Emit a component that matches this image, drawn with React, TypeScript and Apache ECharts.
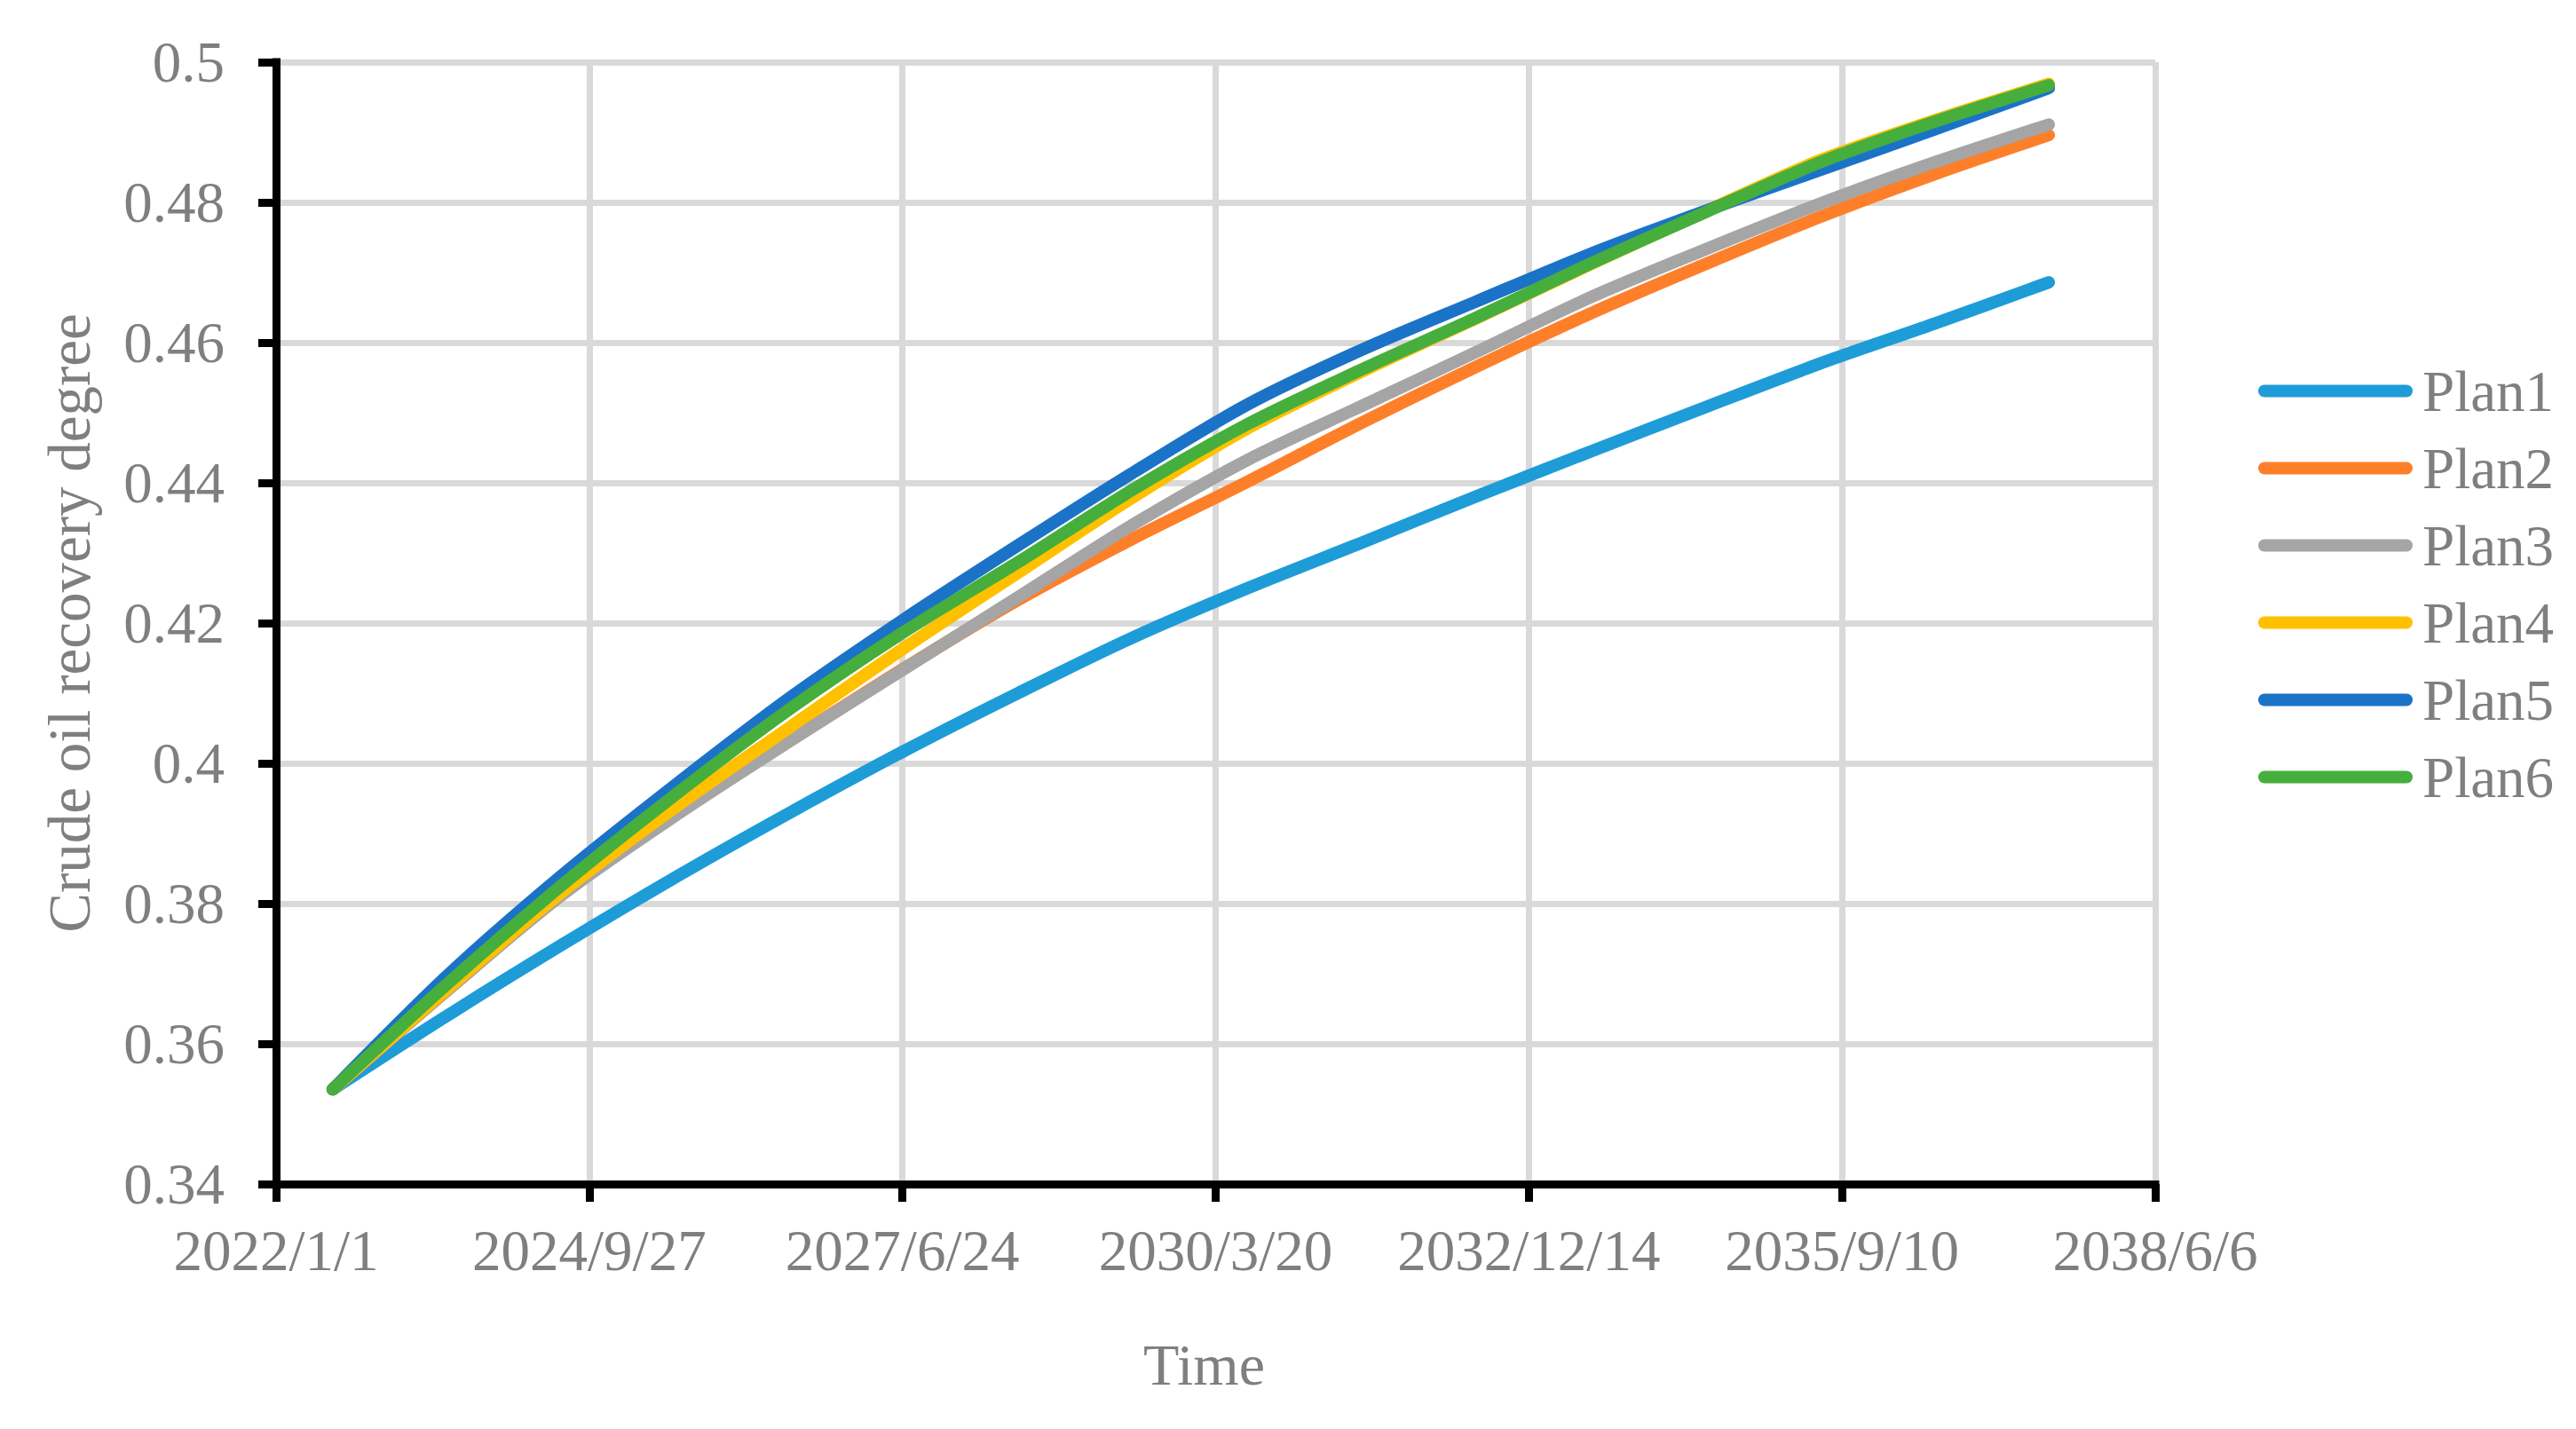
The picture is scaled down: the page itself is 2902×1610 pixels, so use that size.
import React, { useEffect, useRef } from "react";
import * as echarts from "echarts";

// ---- data ----
const axisStart = "2022/1/1";
const dates = [
  "2022/7/1", "2023/7/1", "2024/7/1", "2025/7/1", "2026/7/1", "2027/7/1", "2028/7/1", "2029/7/1",
  "2030/7/1", "2031/7/1", "2032/7/1", "2033/7/1", "2034/7/1", "2035/7/1", "2036/7/1", "2037/7/1",
];
const seriesNames = ["Plan1", "Plan2", "Plan3", "Plan4", "Plan5", "Plan6"];
const plan1 = [0.3535, 0.3640, 0.3741, 0.3838, 0.3930, 0.4018, 0.4101, 0.4180, 0.4250, 0.4315, 0.4381, 0.4445, 0.4508, 0.4570, 0.4627, 0.4686];
const plan2 = [0.3535, 0.3676, 0.3813, 0.3928, 0.4033, 0.4136, 0.4234, 0.4321, 0.4402, 0.4486, 0.4566, 0.4642, 0.4712, 0.4779, 0.4840, 0.4896];
const plan3 = [0.3535, 0.3676, 0.3812, 0.3926, 0.4032, 0.4135, 0.4238, 0.4341, 0.4433, 0.4510, 0.4587, 0.4665, 0.4733, 0.4798, 0.4857, 0.4911];
const plan4 = [0.3535, 0.3678, 0.3816, 0.3938, 0.4052, 0.4165, 0.4273, 0.4380, 0.4478, 0.4559, 0.4635, 0.4712, 0.4787, 0.4860, 0.4917, 0.4969];
const plan5 = [0.3535, 0.3697, 0.3840, 0.3970, 0.4094, 0.4206, 0.4312, 0.4415, 0.4512, 0.4590, 0.4659, 0.4727, 0.4788, 0.4846, 0.4904, 0.4963];
const plan6 = [0.3535, 0.3685, 0.3826, 0.3956, 0.4078, 0.4188, 0.4288, 0.4391, 0.4484, 0.4562, 0.4636, 0.4713, 0.4786, 0.4857, 0.4915, 0.4967];
const colors = ["#1e9cd8", "#fe7f2a", "#a5a5a5", "#ffc000", "#1b73c7", "#46ae3c"];

// x axis: days counted from axisStart, ticks every 1000 days
const xMin = 0;
const xMax = 6000;
const xInterval = 1000;
const yMin = 0.34;
const yMax = 0.5;
const yInterval = 0.02;

const FONT = "'Liberation Serif', 'Times New Roman', serif";
const TEXT = "#7f7f7f";
const DAY = 86400000;

function parseDate(s: string) {
  const [y, m, d] = s.split("/").map(Number);
  return Date.UTC(y, m - 1, d);
}
const base = parseDate(axisStart);
function dayOffset(s: string) {
  return Math.round((parseDate(s) - base) / DAY);
}
function fmtDay(v: number) {
  const dt = new Date(base + Math.round(v) * DAY);
  return `${dt.getUTCFullYear()}/${dt.getUTCMonth() + 1}/${dt.getUTCDate()}`;
}

export default function App() {
  const ref = useRef<HTMLDivElement>(null);
  useEffect(() => {
    if (!ref.current) return;
    const chart = echarts.init(ref.current, undefined, { renderer: "svg" });
    const all = [plan1, plan2, plan3, plan4, plan5, plan6];
    const xs = dates.map(dayOffset);
    chart.setOption({
      animation: false,
      backgroundColor: "#ffffff",
      color: colors,
      grid: { left: 311, right: 474, top: 70, bottom: 276, containLabel: false },
      legend: {
        orient: "vertical",
        left: 2544,
        top: 408,
        padding: 0,
        itemWidth: 174,
        itemHeight: 14,
        itemGap: 22,
        icon: "path://M7,0 H167 A7,7 0 0 1 167,14 H7 A7,7 0 0 1 7,0 Z",
        data: seriesNames,
        textStyle: { color: TEXT, fontSize: 65, fontFamily: FONT, lineHeight: 64, padding: [0, 0, 0, 6] },
      },
      xAxis: {
        type: "value",
        min: xMin,
        max: xMax,
        interval: xInterval,
        name: "Time",
        nameLocation: "middle",
        nameGap: 170,
        nameTextStyle: { color: TEXT, fontSize: 66, fontFamily: FONT, padding: [0, 26, 0, 0] },
        axisLine: { show: true, lineStyle: { color: "#000", width: 9, cap: "square" } },
        axisTick: { show: true, length: 20, lineStyle: { color: "#000", width: 9 } },
        axisLabel: { color: TEXT, fontSize: 65, fontFamily: FONT, margin: 42, formatter: (v: number) => fmtDay(v) },
        splitLine: { show: true, lineStyle: { color: "#d9d9d9", width: 7 } },
      },
      yAxis: {
        type: "value",
        min: yMin,
        max: yMax,
        interval: yInterval,
        name: "Crude oil recovery degree",
        nameLocation: "middle",
        nameGap: 200,
        nameTextStyle: { color: TEXT, fontSize: 67, fontFamily: FONT },
        axisLine: { show: true, lineStyle: { color: "#000", width: 9, cap: "square" } },
        axisTick: { show: true, length: 20, lineStyle: { color: "#000", width: 9 } },
        axisLabel: { color: TEXT, fontSize: 65, fontFamily: FONT, margin: 58, formatter: (v: number) => String(+v.toFixed(2)) },
        splitLine: { show: true, lineStyle: { color: "#d9d9d9", width: 7 } },
      },
      series: seriesNames.map((name, i) => ({
        name,
        type: "line",
        smooth: 0.3,
        showSymbol: false,
        symbol: "none",
        color: colors[i],
        itemStyle: { color: colors[i] },
        lineStyle: { color: colors[i], width: 14, cap: "round", join: "round" },
        data: xs.map((x, j) => [x, all[i][j]]),
      })),
    });
    return () => chart.dispose();
  }, []);
  return <div ref={ref} style={{ position: "fixed", left: 0, top: 0, width: 2902, height: 1610 }} />;
}
